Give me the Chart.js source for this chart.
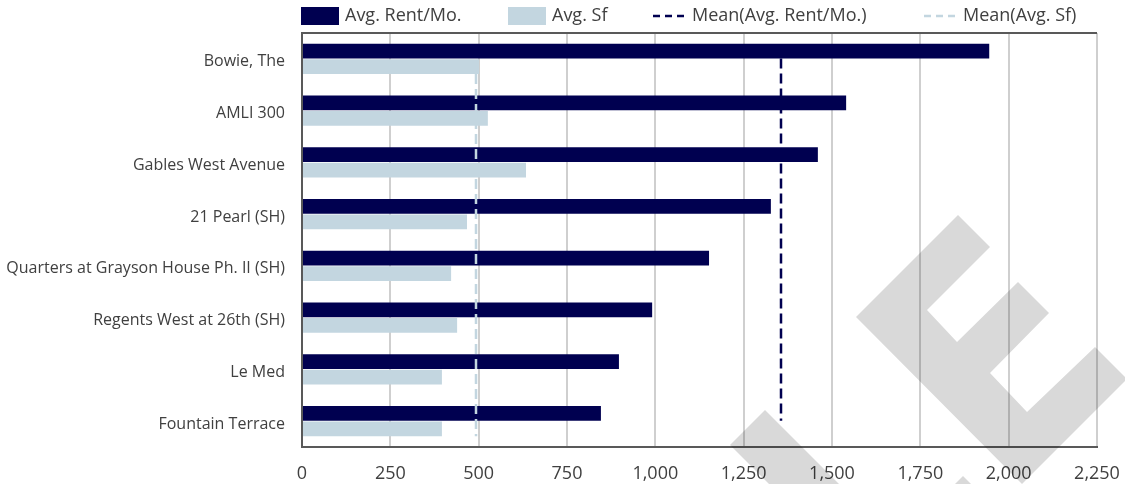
<!DOCTYPE html>
<html>
<head>
<meta charset="utf-8">
<script src="https://cdn.jsdelivr.net/npm/chart.js@4.4.1/dist/chart.umd.min.js"></script>
<style>
  html, body { margin: 0; padding: 0; background: #fff; }
</style>
</head>
<body>
<canvas id="rent-chart" width="1125" height="484"></canvas>
<script>
const properties = [
  'Bowie, The',
  'AMLI 300',
  'Gables West Avenue',
  '21 Pearl (SH)',
  'Quarters at Grayson House Ph. II (SH)',
  'Regents West at 26th (SH)',
  'Le Med',
  'Fountain Terrace'
];
const avgRent = [1945, 1540, 1460, 1327, 1152, 991, 897, 846];
const avgSf = [501, 526, 634, 467, 422, 439, 396, 396];
const meanRent = 1355;
const meanSf = 493;
const xTicks = [0, 250, 500, 750, 1000, 1250, 1500, 1750, 2000, 2250];

const NAVY = '#000050';
const LIGHT = '#c3d6e0';
const TEXT = '#404040';
const FONT = "'Open Sans', 'Noto Sans', sans-serif";

// dashed mean lines, spanning first to last bar of their series
const meanLines = {
  id: 'meanLines',
  afterDatasetsDraw: (chart) => {
    const {ctx, scales} = chart;
    [[0, meanRent, NAVY], [1, meanSf, LIGHT]].forEach(([idx, mean, color]) => {
      const bars = chart.getDatasetMeta(idx).data;
      const first = bars[0], last = bars[bars.length - 1];
      const x = Math.round(scales.x.getPixelForValue(mean));
      ctx.save();
      ctx.strokeStyle = color;
      ctx.lineWidth = 2.5;
      ctx.setLineDash([10, 5]);
      ctx.beginPath();
      ctx.moveTo(x, first.y + first.height / 2);
      ctx.lineTo(x, last.y + last.height / 2);
      ctx.stroke();
      ctx.restore();
    });
    // top frame line
    const a = chart.chartArea;
    ctx.save();
    ctx.strokeStyle = '#595959';
    ctx.lineWidth = 2;
    ctx.beginPath();
    ctx.moveTo(a.left, a.top);
    ctx.lineTo(a.right, a.top);
    ctx.stroke();
    ctx.restore();
  }
};

// legend laid out like the original (uneven spacing)
const customLegend = {
  id: 'customLegend',
  afterDraw: (chart) => {
    const ctx = chart.ctx;
    const items = [
      {text: 'Avg. Rent/Mo.', kind: 'box', color: NAVY, x: 301},
      {text: 'Avg. Sf', kind: 'box', color: LIGHT, x: 508},
      {text: 'Mean(Avg. Rent/Mo.)', kind: 'dash', color: NAVY, x: 653},
      {text: 'Mean(Avg. Sf)', kind: 'dash', color: LIGHT, x: 924}
    ];
    const cy = 16;
    ctx.save();
    ctx.font = '18px ' + FONT;
    ctx.textBaseline = 'middle';
    ctx.fillStyle = TEXT;
    items.forEach(it => {
      if (it.kind === 'box') {
        ctx.fillStyle = it.color;
        ctx.fillRect(it.x, 7, 38, 18);
        ctx.fillStyle = TEXT;
        ctx.fillText(it.text, it.x + 44, cy);
      } else {
        ctx.strokeStyle = it.color;
        ctx.lineWidth = 2.5;
        ctx.setLineDash([7, 5]);
        ctx.beginPath();
        ctx.moveTo(it.x, cy);
        ctx.lineTo(it.x + 32, cy);
        ctx.stroke();
        ctx.setLineDash([]);
        ctx.fillText(it.text, it.x + 39, cy);
      }
    });
    ctx.restore();
  }
};

// grey watermark shapes
const watermark = {
  id: 'watermark',
  afterDraw: (chart) => {
    const ctx = chart.ctx;
    const shapes = [
      [[958,215],[990,247],[927,310],[957,342],[1018,282],[1049,313],[990,373],[1027,412],[1095,347],[1127,379],[1022,484],[856,317]],
      [[765,410],[920,565],[885,600],[730,445]],
      [[963,476],[1040,553],[886,553]]
    ];
    ctx.save();
    ctx.globalCompositeOperation = 'multiply';
    ctx.fillStyle = '#d9d9d9';
    shapes.forEach(pts => {
      ctx.beginPath();
      pts.forEach(([x, y], i) => i ? ctx.lineTo(x, y) : ctx.moveTo(x, y));
      ctx.closePath();
      ctx.fill();
    });
    ctx.restore();
  }
};

const noPad = (s) => { s.paddingLeft = 0; s.paddingRight = 0; s.paddingTop = 0; s.paddingBottom = 0; };

new Chart(document.getElementById('rent-chart').getContext('2d'), {
  type: 'bar',
  data: {
    labels: properties,
    datasets: [
      {label: 'Avg. Rent/Mo.', data: avgRent, backgroundColor: NAVY,
       categoryPercentage: 0.6, barPercentage: 0.95},
      {label: 'Avg. Sf', data: avgSf, backgroundColor: LIGHT,
       categoryPercentage: 0.6, barPercentage: 0.95}
    ]
  },
  options: {
    indexAxis: 'y',
    responsive: false,
    devicePixelRatio: 1,
    animation: false,
    layout: { padding: { top: 33, right: 28, left: 0, bottom: 0 } },
    plugins: {
      legend: { display: false },
      tooltip: { enabled: false }
    },
    scales: {
      x: {
        min: xTicks[0],
        max: xTicks[xTicks.length - 1],
        afterFit: (s) => { noPad(s); s.height = 37; },
        ticks: {
          stepSize: xTicks[1] - xTicks[0],
          color: TEXT,
          font: { family: FONT, size: 18 },
          padding: 16,
          callback: (v) => v.toLocaleString('en-US')
        },
        grid: { color: '#cfcfcf', lineWidth: 2, drawTicks: false },
        border: { color: '#595959', width: 2 }
      },
      y: {
        afterFit: (s) => { noPad(s); s.width = 302; },
        ticks: {
          color: TEXT,
          font: { family: FONT, size: 16 },
          padding: 17,
          labelOffset: 3
        },
        grid: { display: false, drawTicks: false },
        border: { color: '#595959', width: 2 }
      }
    }
  },
  plugins: [meanLines, customLegend, watermark]
});
</script>
</body>
</html>
